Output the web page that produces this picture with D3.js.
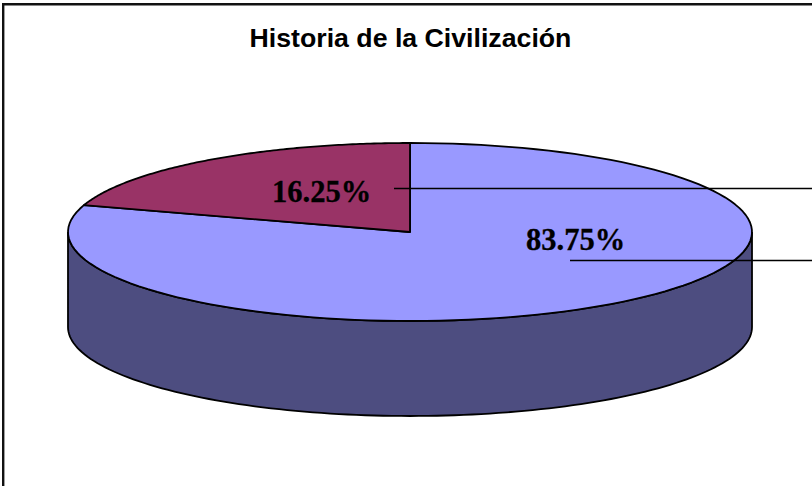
<!DOCTYPE html>
<html>
<head>
<meta charset="utf-8">
<script src="https://cdnjs.cloudflare.com/ajax/libs/d3/7.8.5/d3.min.js"></script>
<style>
html, body { margin: 0; padding: 0; background: #fff; }
svg { display: block; }
.title { font-family: "Liberation Sans", Arial, sans-serif; font-weight: bold; font-size: 26.7px; text-anchor: middle; }
.pct { font-family: "Liberation Serif", "Times New Roman", serif; font-weight: bold; font-size: 30.5px; stroke: #000; stroke-width: 0.3px; }
</style>
</head>
<body>
<div id="chart"></div>
<script>
// Chart data
var values = [83.75, 16.25];
var labels = ["83.75%", "16.25%"];
var colors = ["#9999FF", "#993366"];
var sideColor = "#4D4D80";

// Set Spacing Guidelines
var width = 812;
var height = 486;
var cx = 410, cy = 232;      // centre of top face
var rx = 342, ry = 89;       // radii of top face
var depth = 95;
var skew = 1.94;             // excel foreshortens the angles on a tilted pie

var svg = d3.select("#chart")
	.append("svg")
	.attr("width", width)
	.attr("height", height);

// Chart frame, only top and left show in the picture
svg.append("path")
	.attr("d", "M3.2,486V4.2H812")
	.attr("fill", "none")
	.attr("stroke", "#111")
	.attr("stroke-width", 2.4);

svg.append("text")
	.attr("class", "title")
	.attr("x", 410.5)
	.attr("y", 47)
	.text("Historia de la Civilización");

// Scales from unit circle to the flattened ellipse
var xScale = d3.scaleLinear().domain([-1, 1]).range([cx - rx, cx + rx]);
var yScale = d3.scaleLinear().domain([-1, 1]).range([cy - ry, cy + ry]);

var line = d3.line()
	.x(function(d) { return xScale(d[0]); })
	.y(function(d) { return yScale(d[1]); });

var sideLine = d3.line()
	.x(function(d) { return xScale(d[0]); })
	.y(function(d) { return yScale(d[1]) + depth; });

// Turn a pie angle into the angle on the ellipse
function tilt(a) {
	var t = Math.atan2(skew * Math.sin(a), Math.cos(a));
	return t < 0 && a > 0 ? t + 2 * Math.PI : t;
}

function arcPoints(a0, a1) {
	return d3.range(0, 121).map(function(i) {
		var a = a0 + (a1 - a0) * i / 120;
		return [Math.sin(a), -Math.cos(a)];
	});
}

// Side wall, lower half of ellipse pushed down by depth
var front = arcPoints(Math.PI / 2, 3 * Math.PI / 2);

svg.append("path")
	.attr("d", line(front) + "L" + sideLine(front.slice().reverse()).slice(1) + "Z")
	.attr("fill", sideColor)
	.attr("stroke", "#000")
	.attr("stroke-width", 1.8);

// Top face slices
var pie = d3.pie().sort(null).value(function(d) { return d; });
var slices = pie(values);

svg.selectAll(".slice")
	.data(slices)
	.enter()
	.append("path")
	.attr("class", "slice")
	.attr("d", function(d) {
		return line(arcPoints(tilt(d.startAngle), tilt(d.endAngle))) + "L" + cx + "," + cy + "Z";
	})
	.attr("fill", function(d, i) { return colors[i]; })
	.attr("stroke", "#000")
	.attr("stroke-width", 1.8)
	.attr("stroke-linejoin", "round");

// Leader lines and percent labels
var labelPos = [
	{x: 526, y: 250, lineX: 570, lineY: 260},
	{x: 272, y: 202, lineX: 394, lineY: 188}
];

svg.selectAll(".leader")
	.data(labelPos)
	.enter()
	.append("line")
	.attr("class", "leader")
	.attr("x1", function(d) { return d.lineX; })
	.attr("x2", width)
	.attr("y1", function(d) { return d.lineY + 0.5; })
	.attr("y2", function(d) { return d.lineY + 0.5; })
	.attr("stroke", "#000")
	.attr("stroke-width", 1.6);

svg.selectAll(".pct")
	.data(labels)
	.enter()
	.append("text")
	.attr("class", "pct")
	.attr("x", function(d, i) { return labelPos[i].x; })
	.attr("y", function(d, i) { return labelPos[i].y; })
	.text(function(d) { return d; });
</script>
</body>
</html>
